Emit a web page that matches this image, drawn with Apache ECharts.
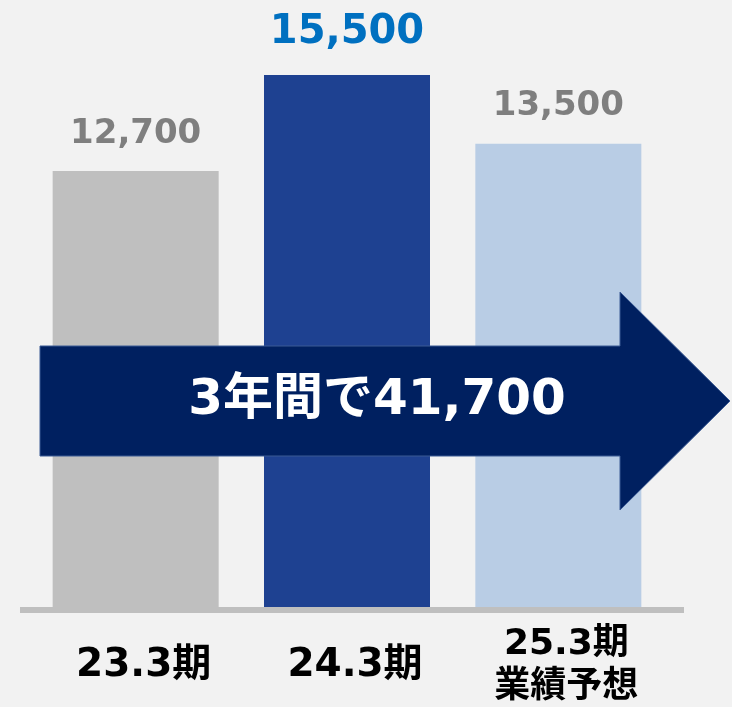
<!DOCTYPE html>
<html>
<head>
<meta charset="utf-8">
<script src="https://cdn.jsdelivr.net/npm/echarts@6/dist/echarts.min.js"></script>
<style>
  html, body { margin: 0; padding: 0; background: #f2f2f2; }
  #chart { width: 732px; height: 707px; }
</style>
</head>
<body>
<div id="chart"></div>
<script>
// 期ごとの値
const categories = ['23.3期', '24.3期', '25.3期\n業績予想']
const values = [12700, 15500, 13500]
const barColors = ['#bfbfbf', '#1e4191', '#b9cde5']
const highlightIndex = 1 // 24.3期 のラベルだけ青で大きく

const FONT = '"DejaVu Sans", "Noto Sans CJK JP", sans-serif'
const fmt = v => v.toLocaleString('en-US')
const total = values.reduce((a, b) => a + b, 0)

const myChart = echarts.init(document.getElementById('chart'))

const seriesData = values.map((v, i) => {
  const item = { value: v, itemStyle: { color: barColors[i] } }
  if (i === highlightIndex) {
    item.label = { color: '#0070c0', fontSize: 40, distance: 22 }
  }
  return item
})

const xData = categories.map((c, i) => {
  if (c.indexOf('\n') >= 0) {
    // 2行のラベルは少し小さめ
    return {
      value: c,
      textStyle: { fontSize: 36, lineHeight: 43, verticalAlign: 'middle' }
    }
  }
  return c
})

const option = {
  backgroundColor: '#f2f2f2',
  animation: false,
  grid: {
    left: 30,
    right: 68,
    top: 75,
    bottom: 100,
    containLabel: false,
    outerBoundsMode: 'none'
  },
  xAxis: {
    type: 'category',
    data: xData,
    axisLine: { show: false },
    axisTick: { show: false },
    axisLabel: {
      color: '#000',
      fontFamily: FONT,
      fontWeight: 'bold',
      fontSize: 39,
      lineHeight: 43,
      verticalAlign: 'middle',
      padding: [0, 0, 0, 16],
      margin: 59,
      interval: 0
    }
  },
  yAxis: {
    type: 'value',
    min: 0,
    max: 15500,
    show: false,
    splitLine: { show: false }
  },
  series: [{
    type: 'bar',
    data: seriesData,
    barWidth: 166,
    label: {
      show: true,
      position: 'top',
      distance: 20,
      color: '#7f7f7f',
      fontFamily: FONT,
      fontWeight: 'bold',
      fontSize: 34,
      formatter: p => fmt(p.value)
    }
  }],
  graphic: [
    {
      // 下の基準線
      type: 'rect',
      z: 5,
      shape: { x: 20, y: 607, width: 664, height: 6 },
      style: { fill: '#bfbfbf' }
    },
    {
      // 矢印
      type: 'polygon',
      z: 100,
      shape: {
        points: [[40, 346], [620, 346], [620, 292], [730, 401], [620, 510], [620, 456], [40, 456]]
      },
      style: { fill: '#002060', stroke: '#3b5a94', lineWidth: 1 }
    },
    {
      type: 'text',
      z: 101,
      x: 377,
      y: 401,
      style: {
        text: categories.length + '年間で' + fmt(total),
        fill: '#fff',
        font: 'bold 50px ' + FONT,
        align: 'center',
        verticalAlign: 'middle'
      }
    }
  ]
}

myChart.setOption(option)
</script>
</body>
</html>
